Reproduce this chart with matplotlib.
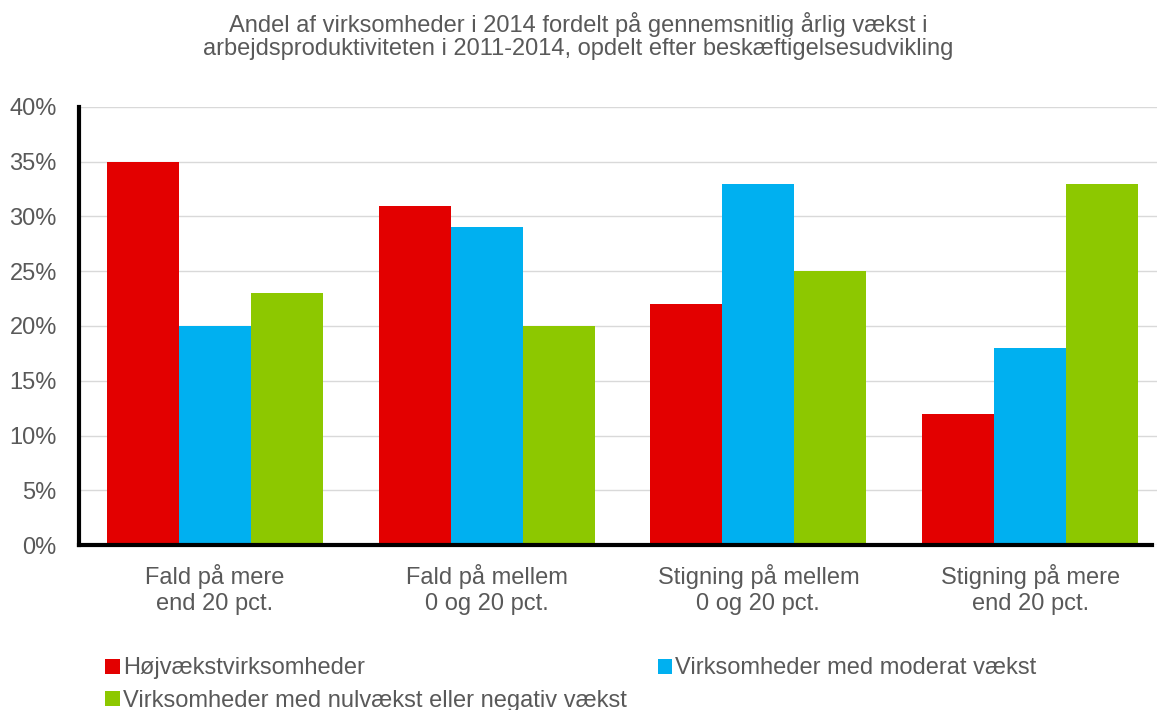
import numpy as np
from matplotlib import pyplot as plt
from matplotlib.ticker import PercentFormatter

categories = ['Fald på mere\nend 20 pct.', 'Fald på mellem\n0 og 20 pct.',
              'Stigning på mellem\n0 og 20 pct.', 'Stigning på mere\nend 20 pct.']
series_names = ['Højvækstvirksomheder', 'Virksomheder med moderat vækst',
                'Virksomheder med nulvækst eller negativ vækst']
hoej = [35, 31, 22, 12]
moderat = [20, 29, 33, 18]
nul = [23, 20, 25, 33]
colors = ['#e30000', '#00b0f0', '#8dc800']

plt.rcParams['font.family'] = ['Liberation Sans', 'DejaVu Sans']
grey = '#595959'

fig = plt.figure(figsize=(11.57, 7.10), dpi=100)
# the plot area runs a little past the right edge of the picture
ax = fig.add_axes([79/1157, 1 - 545/710, 1087/1157, 438/710])

x = np.arange(len(categories))
w = 0.265
bars = []
for k, (vals, name) in enumerate(zip([hoej, moderat, nul], series_names)):
    bars.append(ax.bar(x + (k - 1) * w, vals, w, color=colors[k], label=name, zorder=2))

ax.set_xlim(-0.5, 3.5)
ax.set_ylim(0, 40)
ax.set_yticks(np.arange(0, 41, 5))
ax.yaxis.set_major_formatter(PercentFormatter(decimals=0))
ax.grid(axis='y', color='#d9d9d9', lw=1, zorder=0)
ax.set_xticks(x)
ax.set_xticklabels(categories)
ax.tick_params(axis='both', length=0, labelsize=17, labelcolor=grey)
ax.tick_params(axis='x', pad=14)
ax.tick_params(axis='y', pad=16)
for s in ['top', 'right']:
    ax.spines[s].set_visible(False)
for s in ['left', 'bottom']:
    ax.spines[s].set_linewidth(3)
    ax.spines[s].set_color('black')
    ax.spines[s].set_zorder(3)
ax.spines['bottom'].set_bounds(-0.5, 3.45)

fig.text(0.5, 1 - 36/710, 'Andel af virksomheder i 2014 fordelt på gennemsnitlig årlig vækst i\n'
         'arbejdsproduktiviteten i 2011-2014, opdelt efter beskæftigelsesudvikling',
         ha='center', va='center', fontsize=17, color=grey, linespacing=1.1)

# legend fills row by row in the reference
order = [0, 2, 1]
leg = fig.legend([bars[i] for i in order], [series_names[i] for i in order],
                 loc='upper left', bbox_to_anchor=(96/1157, 1 - 648/710), ncol=2,
                 frameon=False, fontsize=17, labelcolor=grey, handlelength=0.6,
                 handleheight=0.6, handletextpad=0.15, columnspacing=1.3,
                 labelspacing=0.45, borderaxespad=0)

fig.savefig('out.png', dpi=100)
